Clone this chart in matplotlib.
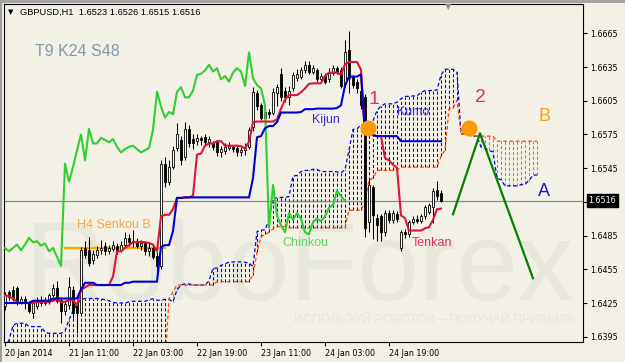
import numpy as np
import pandas as pd
import matplotlib
matplotlib.use('Agg')
import matplotlib.pyplot as plt

# GBPUSD H1, bar 0 = 20 Jan 2014 19:00
opens = [1.6422, 1.6435, 1.6437, 1.6438, 1.6426, 1.6429, 1.6425, 1.6416, 1.6422, 1.6428,
         1.6425, 1.6426, 1.6432, 1.6438, 1.6428, 1.6418, 1.6423, 1.6437, 1.6425, 1.6416,
         1.6474, 1.6472, 1.6463, 1.6468, 1.6472, 1.6476, 1.6471, 1.6473, 1.6476, 1.6472,
         1.6477, 1.6483, 1.6479, 1.6480, 1.6476, 1.6478, 1.6471, 1.6474, 1.6467, 1.6458,
         1.6549, 1.6533, 1.6546, 1.6563, 1.6570, 1.6555, 1.6580, 1.6571, 1.6569, 1.6572,
         1.6573, 1.6568, 1.6567, 1.6568, 1.6559, 1.6560, 1.6563, 1.6564, 1.6563, 1.6559,
         1.6561, 1.6564, 1.6582, 1.6612, 1.6601, 1.6590, 1.6595, 1.6594, 1.6612, 1.6629,
         1.6614, 1.6608, 1.6616, 1.6625, 1.6626, 1.6632, 1.6637, 1.6631, 1.6632, 1.6624,
         1.6628, 1.6624, 1.6630, 1.6634, 1.6632, 1.6620, 1.6650, 1.6626, 1.6622, 1.6614,
         1.6608, 1.6497, 1.6528, 1.6501, 1.6502, 1.6488, 1.6505, 1.6499, 1.6504, 1.6474,
         1.6488, 1.6486, 1.6497, 1.6500, 1.6498, 1.6502, 1.6506, 1.6510, 1.6526, 1.6523]
highs = [1.6435, 1.6437, 1.6440, 1.6440, 1.6431, 1.6431, 1.6427, 1.6427, 1.6430, 1.6431,
         1.6430, 1.6434, 1.6442, 1.6445, 1.6430, 1.6428, 1.6448, 1.6440, 1.6427, 1.6475,
         1.6480, 1.6484, 1.6472, 1.6476, 1.6481, 1.6479, 1.6477, 1.6480, 1.6478, 1.6480,
         1.6488, 1.6486, 1.6490, 1.6483, 1.6481, 1.6480, 1.6478, 1.6476, 1.6470, 1.6552,
         1.6555, 1.6552, 1.6565, 1.6585, 1.6574, 1.6586, 1.6583, 1.6575, 1.6575, 1.6574,
         1.6575, 1.6574, 1.6569, 1.6570, 1.6565, 1.6567, 1.6568, 1.6566, 1.6565, 1.6564,
         1.6567, 1.6582, 1.6617, 1.6615, 1.6603, 1.6599, 1.6598, 1.6616, 1.6620, 1.6634,
         1.6617, 1.6618, 1.6631, 1.6633, 1.6635, 1.6640, 1.6640, 1.6637, 1.6634, 1.6630,
         1.6630, 1.6634, 1.6637, 1.6636, 1.6635, 1.6659, 1.6667, 1.6628, 1.6624, 1.6616,
         1.6611, 1.6535, 1.6530, 1.6504, 1.6504, 1.6508, 1.6508, 1.6508, 1.6507, 1.6490,
         1.6491, 1.6499, 1.6502, 1.6503, 1.6504, 1.6512, 1.6514, 1.6527, 1.6534, 1.6526]
lows = [1.6419, 1.6428, 1.6427, 1.6423, 1.6424, 1.6420, 1.6416, 1.6412, 1.6420, 1.6422,
        1.6423, 1.6424, 1.6430, 1.6425, 1.6407, 1.6414, 1.6420, 1.6412, 1.6398, 1.6413,
        1.6465, 1.6458, 1.6460, 1.6465, 1.6469, 1.6468, 1.6469, 1.6471, 1.6469, 1.6470,
        1.6475, 1.6476, 1.6475, 1.6474, 1.6472, 1.6468, 1.6467, 1.6464, 1.6452, 1.6455,
        1.6528, 1.6530, 1.6544, 1.6560, 1.6548, 1.6552, 1.6564, 1.6562, 1.6566, 1.6566,
        1.6565, 1.6564, 1.6561, 1.6556, 1.6555, 1.6558, 1.6561, 1.6559, 1.6556, 1.6556,
        1.6557, 1.6562, 1.6578, 1.6597, 1.6588, 1.6586, 1.6590, 1.6592, 1.6600, 1.6605,
        1.6604, 1.6601, 1.6614, 1.6623, 1.6624, 1.6630, 1.6629, 1.6629, 1.6622, 1.6622,
        1.6620, 1.6622, 1.6628, 1.6629, 1.6616, 1.6617, 1.6612, 1.6616, 1.6612, 1.6598,
        1.6484, 1.6488, 1.6482, 1.6480, 1.6480, 1.6485, 1.6496, 1.6496, 1.6497, 1.6471,
        1.6483, 1.6484, 1.6495, 1.6496, 1.6496, 1.6500, 1.6504, 1.6496, 1.6517, 1.6515]
closes = [1.6432, 1.6430, 1.6429, 1.6426, 1.6429, 1.6425, 1.6418, 1.6425, 1.6428, 1.6425,
          1.6427, 1.6432, 1.6438, 1.6427, 1.6418, 1.6424, 1.6439, 1.6416, 1.6416, 1.6472,
          1.6468, 1.6461, 1.6469, 1.6472, 1.6474, 1.6471, 1.6474, 1.6477, 1.6472, 1.6477,
          1.6483, 1.6479, 1.6480, 1.6476, 1.6478, 1.6471, 1.6474, 1.6466, 1.6458, 1.6549,
          1.6533, 1.6546, 1.6561, 1.6575, 1.6552, 1.6580, 1.6567, 1.6567, 1.6572, 1.6570,
          1.6568, 1.6571, 1.6564, 1.6559, 1.6562, 1.6564, 1.6565, 1.6562, 1.6559, 1.6561,
          1.6563, 1.6579, 1.6613, 1.6600, 1.6590, 1.6595, 1.6593, 1.6613, 1.6617, 1.6608,
          1.6608, 1.6614, 1.6628, 1.6629, 1.6632, 1.6637, 1.6631, 1.6634, 1.6624, 1.6627,
          1.6622, 1.6630, 1.6634, 1.6631, 1.6618, 1.6648, 1.6625, 1.6619, 1.6616, 1.6601,
          1.6492, 1.6530, 1.6503, 1.6494, 1.6488, 1.6505, 1.6499, 1.6505, 1.6500, 1.6488,
          1.6486, 1.6497, 1.6500, 1.6498, 1.6502, 1.6510, 1.6512, 1.6525, 1.6520, 1.6516]

# indicator values before enough history is on the chart
tenkan_head = [1.6432, 1.6431, 1.6429, 1.6426, 1.6425, 1.6425, 1.6425, 1.6425]
kijun_head = [1.6425] * 7 + [1.6427] * 5 + [1.6429] * 7 + [1.6437] + [1.6443] * 3
span_a_head = [1.6385, 1.6392, 1.6405, 1.6407, 1.6407, 1.6407, 1.6404, 1.6404, 1.6404, 1.6404,
               1.6399, 1.6398, 1.6398, 1.6398, 1.6398, 1.6400, 1.6410, 1.6418, 1.6424, 1.6428,
               1.6429, 1.6429, 1.6429, 1.6429]
span_b_head = ([1.6370] * 41 + [1.6429, 1.6435] + [1.6441] * 10 + [1.6444] * 9 +
               [1.6450, 1.6470, 1.6484, 1.6486, 1.6488, 1.6491, 1.6493, 1.6493, 1.6493])

tick_bars = [0, 16, 32, 48, 64, 80, 96]
tick_labels = ['20 Jan 2014', '21 Jan 11:00', '22 Jan 03:00', '22 Jan 19:00',
               '23 Jan 11:00', '24 Jan 03:00', '24 Jan 19:00']
price_ticks = [1.6395, 1.6425, 1.6455, 1.6485, 1.6515, 1.6545, 1.6575, 1.6605, 1.6635, 1.6665]
last_price = 1.6516

h4_senkou_b = 1.6474
h4_bars = [15, 40]
signal_bars = [90.75, 116]
signal_prices = [1.6581, 1.6581]
forecast_bars = [112, 118.75, 132]
forecast_prices = [1.6504, 1.6576, 1.6447]

W, H = 625, 362
BG = '#F3F1E5'

hs = pd.Series(highs)
ls = pd.Series(lows)
o = np.array(opens)
c = np.array(closes)
n = len(c)
x = np.arange(n)

tenkan = ((hs.rolling(9).max() + ls.rolling(9).min()) / 2).to_numpy()
tenkan[:8] = tenkan_head
kijun = ((hs.rolling(24).max() + ls.rolling(24).min()) / 2).to_numpy()
kijun[:23] = kijun_head
span_a = np.r_[span_a_head, (tenkan + kijun) / 2]
span_b = np.r_[span_b_head, ((hs.rolling(48).max() + ls.rolling(48).min()) / 2).to_numpy()[47:]]
xc = np.arange(len(span_a))

fig = plt.figure(figsize=(W / 100, H / 100), dpi=100, facecolor=BG)
ax = fig.add_axes([4 / W, 20 / H, 579 / W, 338 / H])
ax.set_facecolor(BG)
ax.set_xlim(-0.25, 144.5)
ax.set_ylim(1.63903, 1.66911)

# watermark
ax.text(25 / W, 1 - 300 / H, 'RoboForex', transform=fig.transFigure, fontsize=80,
        family='Liberation Sans', color='#E7E7DC', va='baseline', zorder=0.2)
ax.text(575 / W, 1 - 320 / H, 'ИСПОЛЬЗУЙ РОБОТОВ – ПОЛУЧАЙ ПРИБЫЛЬ', transform=fig.transFigure,
        fontsize=9, family='Liberation Sans', color='#E5E5DA', ha='right', va='center', zorder=0.2)

# kumo hatching
top = np.maximum(span_a, span_b)
bot = np.minimum(span_a, span_b)
up = span_a >= span_b
ax.vlines(xc[up], bot[up], top[up], colors='#0000DD', linestyles=(0, (3, 2)), lw=0.75, zorder=1)
ax.vlines(xc[~up], bot[~up], top[~up], colors='#FF6030', linestyles=(0, (3, 2)), lw=0.75, zorder=1)
ax.plot(xc, span_a, color='#0000DD', ls=(0, (3, 2)), lw=0.9, zorder=1.2)
ax.plot(xc, span_b, color='orangered', ls=(0, (3, 2)), lw=0.9, zorder=1.2)

ax.axhline(last_price, color='#7B8CA3', lw=0.9, zorder=1.5)
ax.plot(h4_bars, [h4_senkou_b] * 2, color='#FFA500', lw=1.6, zorder=2)

# candles
bull = c >= o
ax.vlines(x, lows, highs, color='black', lw=0.75, zorder=3)
ax.bar(x, np.maximum(np.abs(c - o), 0.00004), bottom=np.minimum(o, c), width=0.5,
       color=np.where(bull, 'white', 'black'), edgecolor='black', lw=0.6, zorder=3.1)

# chinkou, tenkan, kijun
ax.plot(x[:n - 24], c[24:], color='limegreen', lw=1.5, zorder=3.5)
ax.plot(x, tenkan, color='crimson', lw=1.5, zorder=4)
ax.plot(x, kijun, color='mediumblue', lw=1.5, zorder=4.1)

# analyst marks
ax.plot(signal_bars, signal_prices, 'o', color='#FF9900', ms=10.5, zorder=5)
ax.plot(forecast_bars, forecast_prices, color='green', lw=1.6, zorder=5)

# axes styling
for s in ax.spines.values():
    s.set_color('black')
    s.set_linewidth(0.8)
ax.yaxis.tick_right()
ax.set_yticks(price_ticks)
ax.set_yticklabels([f'{p:.4f}' for p in price_ticks])
ax.set_xticks(tick_bars)
ax.set_xticklabels(tick_labels)
ax.tick_params(axis='both', direction='out', length=3, width=0.8, labelsize=5.8, pad=2)
for lab in ax.get_xticklabels():
    lab.set_ha('left')
ax.annotate(f'{last_price:.4f}', xy=(1, last_price), xycoords=('axes fraction', 'data'),
            xytext=(4, 0), textcoords='offset points', ha='left', va='center', fontsize=5.8,
            color='white', bbox=dict(boxstyle='square,pad=0.25', fc='black', ec='black'))

# text labels
def put(px, py, s, color, size, **kw):
    fig.text(px / W, 1 - py / H, s, color=color, fontsize=size, family='Liberation Sans',
             ha='left', va='center', **kw)

put(20, 12, 'GBPUSD,H1  1.6523 1.6526 1.6515 1.6516', 'black', 6.7)
fig.text(8 / W, 1 - 12 / H, '▼', fontsize=5, color='black', va='center')
put(35, 51, 'T9 K24 S48', '#8096AE', 11.5)
put(77, 225, 'H4 Senkou B', '#F5A742', 9)
put(312, 120, 'Kijun', '#3C2EDD', 9)
put(397, 112, 'Kumo', '#3C2EDD', 9)
put(282, 243, 'Chinkou', '#5DD75D', 9)
put(412, 243, 'Tenkan', '#E0335A', 9)
put(368, 100, '1', '#E0335A', 14)
put(475, 97, '2', '#E0335A', 14)
put(538, 116, 'B', '#FF9A1A', 13)
put(538, 191, 'A', '#1A1ACD', 13)

# window frame and chart shift marker
fig.add_artist(plt.Line2D([0, 1], [1 - 1 / H] * 2, color='#A0A0A0', lw=2))
fig.add_artist(plt.Line2D([1 / W] * 2, [0, 1], color='#A0A0A0', lw=1.5))
fig.text(448 / W, 1 - 7 / H, '▼', fontsize=6, color='#909090', ha='center', va='center')

fig.savefig('out.png', dpi=100, facecolor=BG)
